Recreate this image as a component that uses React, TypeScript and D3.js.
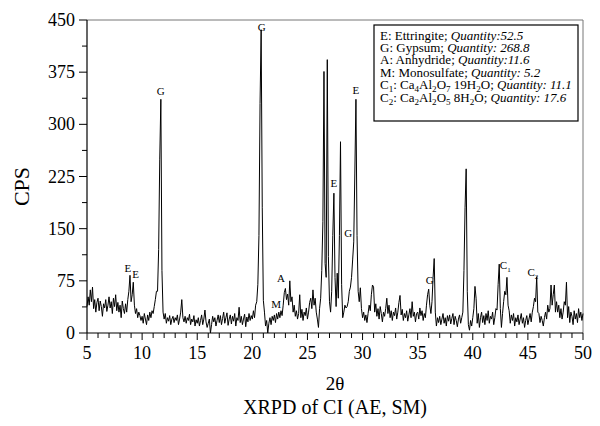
import React from "react";
import * as d3 from "d3";

// scan: 5.0 .. 50.0 deg 2theta, 0.1 deg step (one row per degree)
const scanStart = 5;
const scanStep = 0.1;
const cps: number[] = [
  38, 52, 40, 62, 45, 66, 35, 48, 30, 44, // 5
  50, 32, 46, 38, 24, 42, 36, 48, 31, 40, // 6
  52, 36, 45, 28, 50, 38, 55, 32, 44, 30, // 7
  40, 22, 46, 35, 28, 42, 30, 48, 60, 83, // 8
  45, 55, 73, 40, 28, 35, 22, 30, 25, 18, // 9
  24, 14, 28, 20, 12, 26, 18, 30, 22, 32, // 10
  28, 38, 48, 60, 60, 120, 250, 336, 90, 30, // 11
  20, 28, 14, 22, 17, 25, 12, 20, 24, 15, // 12
  22, 18, 26, 12, 20, 30, 48, 22, 16, 24, // 13
  14, 22, 18, 27, 12, 20, 16, 25, 10, 19, // 14
  14, 22, 10, 18, 26, 12, 20, 33, 16, 8, // 15
  14, 20, 0, 12, 24, 16, 22, 10, 18, 26, // 16
  15, 25, 12, 21, 30, 14, 22, 29, 11, 20, // 17
  26, 13, 24, 17, 28, 10, 22, 18, 37, 15, // 18
  24, 12, 20, 27, 9, 23, 16, 28, 18, 25, // 19
  20, 32, 22, 40, 45, 70, 140, 330, 436, 180, // 20
  47, 30, 10, 18, 0, 14, 22, 12, 24, 18, // 21
  26, 15, 28, 20, 30, 22, 32, 25, 40, 58, // 22
  64, 48, 56, 40, 75, 45, 52, 30, 40, 24, // 23
  32, 20, 28, 55, 22, 34, 18, 30, 25, 36, // 24
  20, 30, 44, 50, 35, 62, 40, 50, 30, 20, // 25
  8, 35, 50, 90, 160, 376, 100, 80, 393, 110, // 26
  45, 30, 60, 140, 201, 80, 38, 86, 50, 140, // 27
  275, 70, 22, 30, 40, 36, 38, 45, 60, 66, // 28
  80, 105, 131, 230, 336, 140, 60, 45, 65, 35, // 29
  22, 30, 18, 26, 15, 28, 40, 32, 55, 69, // 30
  66, 30, 42, 24, 35, 20, 38, 28, 16, 30, // 31
  24, 35, 50, 28, 40, 22, 32, 18, 30, 25, // 32
  36, 20, 30, 44, 54, 26, 34, 18, 28, 22, // 33
  32, 17, 26, 35, 22, 45, 24, 30, 16, 28, // 34
  30, 20, 36, 25, 32, 18, 28, 22, 40, 55, // 35
  63, 40, 28, 45, 80, 107, 30, 10, 22, 15, // 36
  24, 12, 20, 28, 14, 22, 10, 25, 17, 26, // 37
  13, 21, 28, 12, 24, 18, 9, 20, 26, 14, // 38
  22, 30, 90, 180, 236, 60, 12, 4, 18, 10, // 39
  22, 35, 67, 50, 14, 28, 8, 22, 30, 15, // 40
  25, 12, 28, 18, 32, 14, 24, 20, 30, 12, // 41
  22, 35, 33, 70, 99, 35, 8, 28, 45, 60, // 42
  55, 80, 40, 32, 14, 26, 18, 28, 10, 22, // 43
  16, 26, 12, 20, 28, 14, 22, 8, 18, 25, // 44
  12, 20, 28, 16, 30, 38, 50, 45, 81, 30, // 45
  28, 15, 24, 18, 10, 22, 30, 20, 40, 30, // 46
  35, 69, 40, 55, 69, 30, 45, 30, 40, 22, // 47
  35, 20, 30, 45, 40, 73, 22, 38, 15, 30, // 48
  24, 12, 32, 20, 28, 15, 35, 22, 30, 18, // 49
  28, // 50
];

// phase markers on the peaks
const peakText = ["E", "E", "G", "G", "M", "A", "E", "G", "E", "G", "C1", "C2"];
const peakTheta = [8.7, 9.4, 11.7, 20.85, 22.15, 22.6, 27.4, 28.7, 29.4, 36.1, 42.95, 45.45];
const peakCps = [88, 79, 342, 434, 36, 73, 210, 138, 344, 70, 92, 82];

// legend rows ("_n" = subscript digit)
const legendPhase = ["E: Ettringite; ", "G: Gypsum; ", "A: Anhydride; ", "M: Monosulfate; ",
  "C_1: Ca_4Al_2O_7 19H_2O; ", "C_2: Ca_2Al_2O_5 8H_2O; "];
const legendQuantity = ["Quantity:52.5", "Quantity: 268.8", "Quantity:11.6", "Quantity: 5.2",
  "Quantity: 11.1", "Quantity: 17.6"];

const xMajor = [5, 10, 15, 20, 25, 30, 35, 40, 45, 50];
const yMajor = [0, 75, 150, 225, 300, 375, 450];

const font = '"Liberation Serif", "Times New Roman", Times, "DejaVu Serif", serif';

function withSubs(s: string, size: number, key: string) {
  const parts = s.split(/(_\d)/).filter((p) => p !== "");
  return parts.map((p, i) =>
    p[0] === "_" ? (
      <tspan key={key + i} fontSize={size * 0.7} dy={size * 0.25}>{p.slice(1)}</tspan>
    ) : (
      <tspan key={key + i} dy={i > 0 && parts[i - 1][0] === "_" ? -size * 0.25 : 0}>{p}</tspan>
    )
  );
}

export default function App() {
  const left = 87, right = 583, top = 20, bottom = 333;
  const x = d3.scaleLinear().domain([5, 50]).range([left, right]);
  const y = d3.scaleLinear().domain([0, 450]).range([bottom, top]);

  const points: [number, number][] = cps.map((v, i) => [scanStart + i * scanStep, v]);
  const line = d3.line<[number, number]>()
    .x((d) => x(d[0]))
    .y((d) => y(d[1]));

  const xMinor = d3.range(5, 51, 1);
  const yMinor = d3.range(0, 451, 37.5);
  const legendSize = 13;

  return (
    <svg width={600} height={426}
         style={{ position: "absolute", left: 0, top: 0, background: "#fff", fontFamily: font }}>
      {/* frame */}
      <line x1={left} x2={right} y1={top} y2={top} stroke="#777" strokeWidth={1} />
      <line x1={right} x2={right} y1={top} y2={bottom} stroke="#777" strokeWidth={1} />

      {/* data */}
      <path d={line(points) || ""} fill="none" stroke="#000" strokeWidth={1} strokeLinejoin="round" />

      {/* axes */}
      <line x1={left} x2={right} y1={bottom} y2={bottom} stroke="#000" strokeWidth={1.2} />
      <line x1={left} x2={left} y1={top} y2={bottom} stroke="#000" strokeWidth={1.2} />
      {xMinor.map((t) => (
        <line key={"xm" + t} x1={x(t)} x2={x(t)} y1={bottom}
              y2={bottom + (xMajor.includes(t) ? 7 : 5)} stroke="#000" strokeWidth={1} />
      ))}
      {yMinor.map((t) => (
        <line key={"ym" + t} x1={left - (yMajor.includes(t) ? 8 : 5)} x2={left} y1={y(t)} y2={y(t)}
              stroke="#000" strokeWidth={1} />
      ))}
      {xMajor.map((t) => (
        <text key={"xl" + t} x={x(t)} y={bottom + 26} fontSize={18} textAnchor="middle">{t}</text>
      ))}
      {yMajor.map((t) => (
        <text key={"yl" + t} x={left - 12} y={y(t) + 6} fontSize={18} textAnchor="end">{t}</text>
      ))}
      <text x={335} y={390} fontSize={19} textAnchor="middle">2θ</text>
      <text x={335} y={414} fontSize={20} textAnchor="middle">XRPD of CI (AE, SM)</text>
      <text transform={`translate(29,${(top + bottom) / 2 + 10}) rotate(-90)`} fontSize={22}
            textAnchor="middle">CPS</text>

      {/* peak markers */}
      {peakText.map((t, i) => (
        <text key={"pk" + i} x={x(peakTheta[i])} y={y(peakCps[i])} fontSize={11} textAnchor="middle"
              fill="#000">
          {t.length > 1 ? (
            <>
              <tspan>{t[0]}</tspan>
              <tspan fontSize={7} dy={3}>{t[1]}</tspan>
            </>
          ) : t}
        </text>
      ))}

      {/* legend */}
      <rect x={374} y={25} width={204} height={96} fill="#fff" stroke="#000" strokeWidth={1.2} />
      {legendPhase.map((p, i) => (
        <text key={"lg" + i} x={380} y={39.5 + i * 12.4} fontSize={legendSize}>
          {withSubs(p, legendSize, "s" + i)}
          <tspan fontStyle="italic">{legendQuantity[i]}</tspan>
        </text>
      ))}
    </svg>
  );
}
